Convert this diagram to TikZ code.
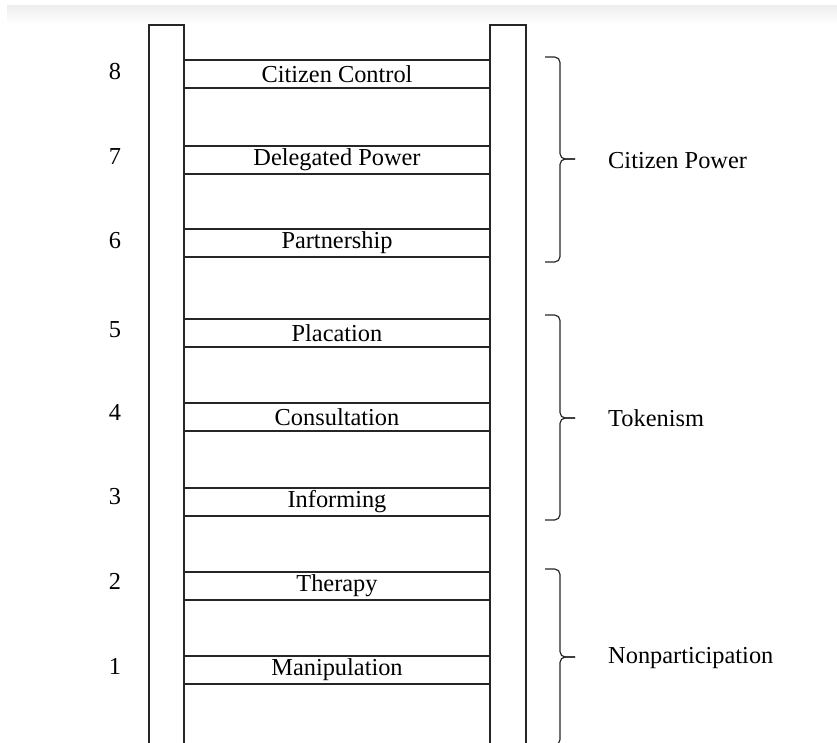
\documentclass[tikz,border=0pt]{standalone}
\usepackage{fontspec}
\setmainfont{Liberation Serif}
\usetikzlibrary{calc, positioning}
\tikzset{
    rail/.style={draw=black!85, line width=1pt},
    rungBox/.style={rectangle, draw=black!85, line width=1pt, fill=white, minimum width=9.18cm, minimum height=0.84cm, inner sep=0pt, font=\fontsize{20.8}{24}\selectfont},
    rungNum/.style={inner sep=0pt, font=\fontsize{20.8}{24}\selectfont},
    groupBrace/.style={draw=black!85, line width=1pt, rounded corners=0.16cm},
    groupLabel/.style={anchor=west, inner sep=0pt, font=\fontsize{20.8}{24}\selectfont},
}
\newcommand{\ladderRung}[4]{
    \node[rungBox] (rung#1) at (337,#2) {#4};
    \node[rungNum] (num#1) at (115,#3) {#1};
}
\newcommand{\drawGroup}[3]{
    \draw[groupBrace] (#1) -- ++(15,0) -- ($(#3)+(-15,0)$) -- (#3);
    \draw[groupBrace] (#2) -- ++(15,0) -- ($(#3)+(-15,0)$) -- (#3);
}

\begin{document}
\begin{tikzpicture}[x=0.03cm, y=-0.03cm]
        \useasboundingbox (0,0) rectangle (837,742);
        \clip (0,0) rectangle (837,742);
        \shade[top color=black!7, bottom color=white] (7,5) rectangle (837,24);

        % rails
        \draw[rail] (149,760) -- (149,25) -- (184,25) -- (184,760);
        \draw[rail] (490,760) -- (490,25) -- (526,25) -- (526,760);

        % rungs
        \ladderRung{8}{74}{72}{Citizen Control}
        \ladderRung{7}{160}{157}{Delegated Power}
        \ladderRung{6}{243}{241}{Partnership}
        \ladderRung{5}{333}{330}{Placation}
        \ladderRung{4}{417}{412}{Consultation}
        \ladderRung{3}{502}{497}{Informing}
        \ladderRung{2}{586}{581}{Therapy}
        \ladderRung{1}{670}{666}{Manipulation}

        % groups
        \coordinate (cpTop) at (545,57);
        \coordinate (cpBot) at (545,262);
        \coordinate (cpTip) at (575,159);
        \coordinate (tkTop) at (545,315);
        \coordinate (tkBot) at (545,520);
        \coordinate (tkTip) at (575,418);
        \coordinate (npTop) at (545,569);
        \coordinate (npBot) at (545,745);
        \coordinate (npTip) at (575,657);
        \drawGroup{cpTop}{cpBot}{cpTip}
        \drawGroup{tkTop}{tkBot}{tkTip}
        \drawGroup{npTop}{npBot}{npTip}
        \node[groupLabel] (cp) at (608,161) {Citizen Power};
        \node[groupLabel] (tk) at (608,418) {Tokenism};
        \node[groupLabel] (np) at (608,658) {Nonparticipation};

    \end{tikzpicture}
\end{document}
